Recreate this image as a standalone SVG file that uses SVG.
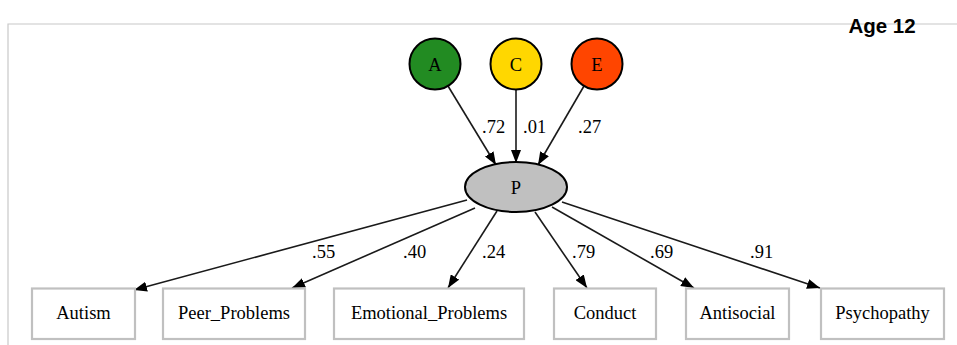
<svg xmlns="http://www.w3.org/2000/svg" width="957" height="345" viewBox="0 0 957 345">
<style>
.t{font-family:"Liberation Serif","Times New Roman",serif;font-size:18.5px;fill:#000}
.c{text-anchor:middle}
.box{fill:#fff;stroke:#c0c0c0;stroke-width:2.2}
.lat{stroke:#000;stroke-width:2}
.e{stroke:#1a1a1a;stroke-width:1.6;fill:none;marker-end:url(#ah)}
</style>
<defs>
<marker id="ah" markerUnits="userSpaceOnUse" markerWidth="14" markerHeight="10" refX="13" refY="5" orient="auto">
<path d="M0,0 L13,5 L0,10 z" fill="#000"/>
</marker>
</defs>
<rect width="957" height="345" fill="#fff"/>
<path d="M8,345 V24 H957" fill="none" stroke="#c8c8c8" stroke-width="1.2"/>
<text x="882" y="32.5" text-anchor="middle" font-family="Liberation Sans,Arial,sans-serif" font-weight="bold" font-size="20.5" fill="#000">Age 12</text>
<g id="connectors">
<line class="e" x1="448" y1="86" x2="496" y2="165"/>
<line class="e" x1="516" y1="90" x2="516" y2="163"/>
<line class="e" x1="584" y1="86" x2="538" y2="165"/>
<line class="e" x1="467" y1="200" x2="134" y2="290"/>
<line class="e" x1="475" y1="208" x2="292" y2="288"/>
<line class="e" x1="497" y1="211" x2="448" y2="288"/>
<line class="e" x1="535" y1="212" x2="587" y2="288"/>
<line class="e" x1="552" y1="207" x2="694" y2="288"/>
<line class="e" x1="562" y1="202" x2="820" y2="288"/>
<text class="t" x="482" y="133">.72</text>
<text class="t" x="523" y="133">.01</text>
<text class="t" x="578" y="133">.27</text>
<text class="t" x="312" y="258">.55</text>
<text class="t" x="403" y="258">.40</text>
<text class="t" x="482" y="258">.24</text>
<text class="t" x="572" y="258">.79</text>
<text class="t" x="650" y="258">.69</text>
<text class="t" x="750" y="258">.91</text>
</g>
<g id="A"><circle class="lat" cx="435" cy="64" r="25.5" fill="#228b22"/><text class="t c" x="435" y="70.5">A</text></g>
<g id="C"><circle class="lat" cx="516" cy="64" r="25.5" fill="#ffd700"/><text class="t c" x="516" y="70.5">C</text></g>
<g id="E"><circle class="lat" cx="597" cy="64" r="25.5" fill="#ff4500"/><text class="t c" x="597" y="70.5">E</text></g>
<g id="P"><ellipse class="lat" cx="516" cy="187" rx="51" ry="25" fill="#c0c0c0"/><text class="t c" x="516" y="193.5">P</text></g>
<g id="Autism"><rect class="box" x="32" y="288.5" width="103" height="50.5"/><text class="t c" x="83.5" y="319">Autism</text></g>
<g id="Peer_Problems"><rect class="box" x="163" y="288.5" width="142" height="50.5"/><text class="t c" x="234" y="319">Peer_Problems</text></g>
<g id="Emotional_Problems"><rect class="box" x="334" y="288.5" width="190" height="50.5"/><text class="t c" x="429" y="319">Emotional_Problems</text></g>
<g id="Conduct"><rect class="box" x="554" y="288.5" width="102" height="50.5"/><text class="t c" x="605" y="319">Conduct</text></g>
<g id="Antisocial"><rect class="box" x="686" y="288.5" width="103" height="50.5"/><text class="t c" x="737.5" y="319">Antisocial</text></g>
<g id="Psychopathy"><rect class="box" x="821" y="288.5" width="123" height="50.5"/><text class="t c" x="882.5" y="319">Psychopathy</text></g>
</svg>
